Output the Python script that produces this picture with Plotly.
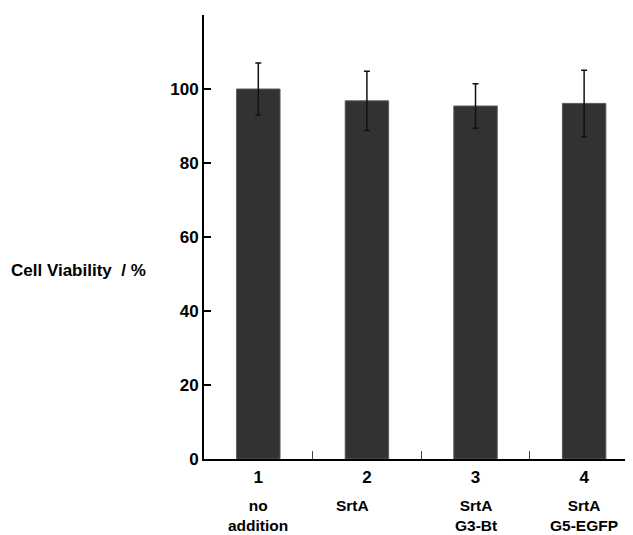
import plotly.graph_objects as go

categories = ["1", "2", "3", "4"]
descriptions = ["no<br>addition", "SrtA", "SrtA<br>G3-Bt", "SrtA<br>G5-EGFP"]
viability = [100.0, 96.8, 95.4, 96.1]
errors = [7.0, 8.0, 6.0, 9.0]
y_ticks = [0, 20, 40, 60, 80, 100, 120]
y_ticktext = ["0", "20", "40", "60", "80", "100", ""]

xpos = [1, 2, 3, 4]
FONT = "Liberation Sans, Arial, sans-serif"
label_xshift = {1: -14}

fig = go.Figure()
fig.add_trace(go.Bar(
    x=xpos, y=viability, width=0.4,
    marker=dict(color="#323232", line=dict(color="#5a5a5a", width=1)),
    error_y=dict(type="data", array=errors, visible=True, color="#111111",
                 thickness=1.5, width=3),
))

for i, (xv, d) in enumerate(zip(xpos, descriptions)):
    fig.add_annotation(x=xv, y=0, xref="x", yref="paper", text="<b>" + d + "</b>",
                       showarrow=False, yanchor="top", xanchor="center",
                       yshift=-37, xshift=label_xshift.get(i, 0),
                       font=dict(family=FONT, size=15.5, color="black"),
                       align="center", borderpad=0)

fig.add_annotation(x=0, y=51, xref="paper", yref="y", text="<b>Cell Viability&nbsp;&nbsp;/ %</b>",
                   showarrow=False, xanchor="right", yanchor="middle", xshift=-56,
                   font=dict(family=FONT, size=17, color="black"))

fig.update_layout(
    width=625, height=535,
    margin=dict(l=196, r=0, t=7, b=84),
    paper_bgcolor="white", plot_bgcolor="white",
    showlegend=False,
    font=dict(family=FONT, color="black"),
    xaxis=dict(
        range=[0.5, 4.45], tickvals=xpos, ticktext=["<b>" + c + "</b>" for c in categories],
        ticks="", showgrid=False, zeroline=False,
        showline=True, linecolor="black", linewidth=2,
        tickfont=dict(family=FONT, size=17, color="black"),
        ticklabelstandoff=2,
        minor=dict(tickvals=[1.5, 2.5, 3.5], ticks="inside", ticklen=8,
                   tickwidth=1.2, tickcolor="#444", showgrid=False),
    ),
    yaxis=dict(
        range=[0, 120], tickvals=y_ticks, ticktext=["<b>" + t + "</b>" if t else "" for t in y_ticktext],
        ticks="inside", ticklen=7, tickwidth=1.5, tickcolor="black",
        showgrid=False, zeroline=False,
        showline=True, linecolor="black", linewidth=2,
        tickfont=dict(family=FONT, size=17, color="black"),
    ),
)

fig.write_html("out.html")
